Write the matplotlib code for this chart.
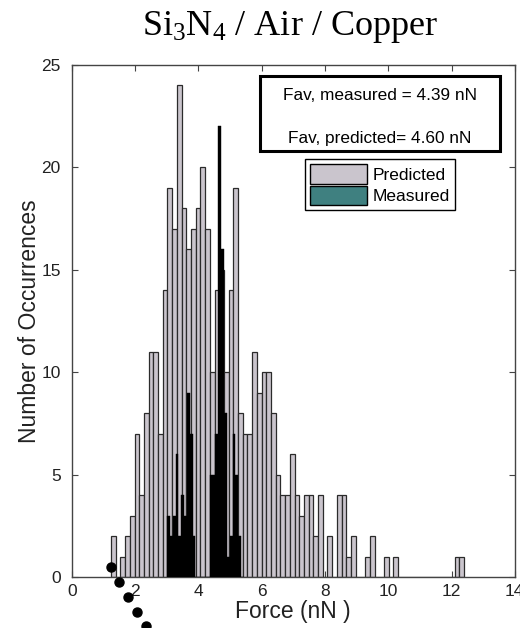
import matplotlib
matplotlib.use('Agg')
import numpy as np
import matplotlib.pyplot as plt
from matplotlib.patches import Patch, Rectangle

pred_inicio = 1.24
pred_ancho = 0.1487
pred_conteos = [2, 0, 1, 2, 3, 7, 4, 8, 11, 11, 7, 14, 19, 17, 24, 18, 16, 17, 18, 20,
                17, 10, 14, 15, 10, 14, 19, 8, 7, 7, 11, 9, 10, 10, 8, 5, 4, 4, 6, 4,
                3, 4, 4, 2, 4, 0, 2, 0, 4, 4, 1, 2, 0, 0, 1, 2, 0, 0, 1, 0,
                1, 0, 0, 0, 0, 0, 0, 0, 0, 0, 0, 0, 0, 1, 1]

med_inicio = 3.01
med_ancho = 0.09
med_conteos = [3, 2, 3, 6, 2, 4, 3, 9, 7, 2, 0, 0, 0, 0, 0, 5, 5, 7, 22, 16, 8, 1, 2, 7, 5, 2, 0]

ajuste_x = [1.24, 1.49, 1.77, 2.05, 2.34]
ajuste_y = [0.50, -0.26, -0.99, -1.69, -2.39]

fav_medido = 4.39
fav_predicho = 4.60

# Fuentes
plt.rcParams['font.family'] = 'Liberation Sans'
plt.rcParams['mathtext.fontset'] = 'custom'
plt.rcParams['mathtext.rm'] = 'Liberation Serif'
plt.rcParams['mathtext.it'] = 'Liberation Serif:italic'

color_pred = '#cac5cd'
color_med = '#3f8080'

fig = plt.figure(figsize=(5.2, 6.28), dpi=100)
ax = fig.add_axes([0.138, 0.081, 0.852, 0.8155])

# Barras
pred_x = pred_inicio + pred_ancho * np.arange(len(pred_conteos))
ax.bar(pred_x, pred_conteos, width=pred_ancho, align='edge',
       color=color_pred, edgecolor='#2b2b2b', linewidth=0.9, zorder=2)

med_x = med_inicio + med_ancho * np.arange(len(med_conteos))
ax.bar(med_x, med_conteos, width=med_ancho, align='edge',
       color='black', edgecolor='black', linewidth=0.3, zorder=3)

# Puntos del ajuste (salen del area del grafico)
ax.plot(ajuste_x, ajuste_y, 'o', color='black', markersize=6.5,
        clip_on=False, zorder=5)

ax.set_xlim(0, 14)
ax.set_ylim(0, 25)
ax.set_xticks(range(0, 15, 2))
ax.set_yticks(range(0, 26, 5))
ax.tick_params(direction='in', top=True, right=True, length=4,
               labelsize=12.5, color='#444444', labelcolor='#222222')
ax.tick_params(axis='y', pad=8)
ax.tick_params(axis='x', pad=5)
for s in ax.spines.values():
    s.set_color('#444444')
    s.set_linewidth(1.0)

ax.set_xlabel('Force (nN )', fontsize=16.5, color='#222222', labelpad=1)
ax.set_ylabel('Number of Occurrences', fontsize=16.5, color='#222222', labelpad=0)

# Cuadro con los promedios
ax.add_patch(Rectangle((0.426, 0.833), 0.54, 0.1455, transform=ax.transAxes,
                       facecolor='white', edgecolor='black', linewidth=2.2, zorder=6))
ax.text(0.695, 0.941, 'Fav, measured = %.2f nN' % fav_medido, transform=ax.transAxes,
        ha='center', va='center', fontsize=12.4, zorder=7)
ax.text(0.695, 0.857, 'Fav, predicted= %.2f nN' % fav_predicho, transform=ax.transAxes,
        ha='center', va='center', fontsize=12.4, zorder=7)

# Leyenda
handles = [Patch(facecolor=color_pred, edgecolor='black', label='Predicted'),
           Patch(facecolor=color_med, edgecolor='black', label='Measured')]
leg = ax.legend(handles=handles, loc='upper left', bbox_to_anchor=(0.526, 0.816),
                borderaxespad=0, fancybox=False, edgecolor='black', framealpha=1,
                fontsize=12.5, handlelength=3.3, handleheight=1.35, handletextpad=0.3,
                labelspacing=0.1, borderpad=0.3)
leg.get_frame().set_linewidth(1.0)
leg.set_zorder(7)

fig.text(0.558, 0.944, r'Si$_3$N$_4$ / Air / Copper', ha='center', va='baseline',
         fontsize=26, family='Liberation Serif')

fig.savefig('out.png', dpi=100)
